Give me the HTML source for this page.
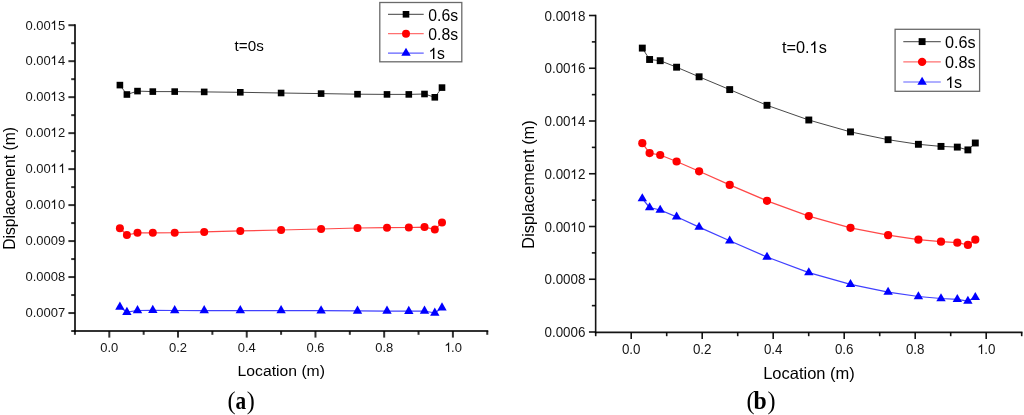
<!DOCTYPE html><html><head><meta charset="utf-8"><style>html,body{margin:0;padding:0;background:#fff;overflow:hidden}svg{display:block;will-change:transform;font-kerning:none;font-family:"Liberation Sans", sans-serif}</style></head><body>
<svg width="1024" height="415" viewBox="0 0 1024 415">
<rect width="1024" height="415" fill="#fff"></rect>
<g stroke="#000" stroke-width="2.0" stroke-opacity="0.8" fill="none"><g stroke-linecap="square"><line x1="75" y1="25.2" x2="75" y2="331"></line><line x1="74.94" y1="331" x2="487.26" y2="331"></line></g><line x1="68.4" y1="25.2" x2="75" y2="25.2"></line><line x1="71.2" y1="43.19" x2="75" y2="43.19"></line><line x1="68.4" y1="61.18" x2="75" y2="61.18"></line><line x1="71.2" y1="79.17" x2="75" y2="79.17"></line><line x1="68.4" y1="97.16" x2="75" y2="97.16"></line><line x1="71.2" y1="115.15" x2="75" y2="115.15"></line><line x1="68.4" y1="133.14" x2="75" y2="133.14"></line><line x1="71.2" y1="151.13" x2="75" y2="151.13"></line><line x1="68.4" y1="169.12" x2="75" y2="169.12"></line><line x1="71.2" y1="187.11" x2="75" y2="187.11"></line><line x1="68.4" y1="205.1" x2="75" y2="205.1"></line><line x1="71.2" y1="223.09" x2="75" y2="223.09"></line><line x1="68.4" y1="241.08" x2="75" y2="241.08"></line><line x1="71.2" y1="259.07" x2="75" y2="259.07"></line><line x1="68.4" y1="277.06" x2="75" y2="277.06"></line><line x1="71.2" y1="295.05" x2="75" y2="295.05"></line><line x1="68.4" y1="313.04" x2="75" y2="313.04"></line><line x1="71.2" y1="331.03" x2="75" y2="331.03"></line><line x1="74.94" y1="331" x2="74.94" y2="334.8"></line><line x1="109.3" y1="331" x2="109.3" y2="337.6"></line><line x1="143.66" y1="331" x2="143.66" y2="334.8"></line><line x1="178.02" y1="331" x2="178.02" y2="337.6"></line><line x1="212.38" y1="331" x2="212.38" y2="334.8"></line><line x1="246.74" y1="331" x2="246.74" y2="337.6"></line><line x1="281.1" y1="331" x2="281.1" y2="334.8"></line><line x1="315.46" y1="331" x2="315.46" y2="337.6"></line><line x1="349.82" y1="331" x2="349.82" y2="334.8"></line><line x1="384.18" y1="331" x2="384.18" y2="337.6"></line><line x1="418.54" y1="331" x2="418.54" y2="334.8"></line><line x1="452.9" y1="331" x2="452.9" y2="337.6"></line><line x1="487.26" y1="331" x2="487.26" y2="334.8"></line></g>
<g fill="#161616"><text transform="translate(65.2,29.5) scale(1.0,1.05)" text-anchor="end" font-size="13.0">0.00&#x2007;5</text><path d="M763 0L583 0L583 1100Q515 1040 410 980Q310 925 223 893L223 1063Q370 1125 480 1220Q580 1310 640 1409L763 1409Z" transform="translate(65.2,29.5) scale(1.0,1.05) translate(-14.90068,0.47619) scale(0.00635,-0.00635)"></path><text transform="translate(65.2,65.48) scale(1.0,1.05)" text-anchor="end" font-size="13.0">0.00&#x2007;4</text><path d="M763 0L583 0L583 1100Q515 1040 410 980Q310 925 223 893L223 1063Q370 1125 480 1220Q580 1310 640 1409L763 1409Z" transform="translate(65.2,65.48) scale(1.0,1.05) translate(-14.90068,-0.45715) scale(0.00635,-0.00635)"></path><text transform="translate(65.2,101.46) scale(1.0,1.05)" text-anchor="end" font-size="13.0">0.00&#x2007;3</text><path d="M763 0L583 0L583 1100Q515 1040 410 980Q310 925 223 893L223 1063Q370 1125 480 1220Q580 1310 640 1409L763 1409Z" transform="translate(65.2,101.46) scale(1.0,1.05) translate(-14.90068,-0.43809) scale(0.00635,-0.00635)"></path><text transform="translate(65.2,137.44) scale(1.0,1.05)" text-anchor="end" font-size="13.0">0.00&#x2007;2</text><path d="M763 0L583 0L583 1100Q515 1040 410 980Q310 925 223 893L223 1063Q370 1125 480 1220Q580 1310 640 1409L763 1409Z" transform="translate(65.2,137.44) scale(1.0,1.05) translate(-14.90068,-0.41905) scale(0.00635,-0.00635)"></path><text transform="translate(65.2,173.42) scale(1.0,1.05)" text-anchor="end" font-size="13.0">0.00&#x2007;&#x2007;</text><path d="M763 0L583 0L583 1100Q515 1040 410 980Q310 925 223 893L223 1063Q370 1125 480 1220Q580 1310 640 1409L763 1409Z" transform="translate(65.2,173.42) scale(1.0,1.05) translate(-6.90068,-0.4) scale(0.00635,-0.00635)"></path><path d="M763 0L583 0L583 1100Q515 1040 410 980Q310 925 223 893L223 1063Q370 1125 480 1220Q580 1310 640 1409L763 1409Z" transform="translate(65.2,173.42) scale(1.0,1.05) translate(-14.90068,-0.4) scale(0.00635,-0.00635)"></path><text transform="translate(65.2,209.4) scale(1.0,1.05)" text-anchor="end" font-size="13.0">0.00&#x2007;0</text><path d="M763 0L583 0L583 1100Q515 1040 410 980Q310 925 223 893L223 1063Q370 1125 480 1220Q580 1310 640 1409L763 1409Z" transform="translate(65.2,209.4) scale(1.0,1.05) translate(-14.90068,-0.38095) scale(0.00635,-0.00635)"></path><text transform="translate(65.2,245.38) scale(1.0,1.05)" text-anchor="end" font-size="13.0">0.0009</text><text transform="translate(65.2,281.36) scale(1.0,1.05)" text-anchor="end" font-size="13.0">0.0008</text><text transform="translate(65.2,317.34) scale(1.0,1.05)" text-anchor="end" font-size="13.0">0.0007</text><text transform="translate(109.3,351.5) scale(1.0,1.05)" text-anchor="middle" font-size="13.0">0.0</text><text transform="translate(178.02,351.5) scale(1.0,1.05)" text-anchor="middle" font-size="13.0">0.2</text><text transform="translate(246.74,351.5) scale(1.0,1.05)" text-anchor="middle" font-size="13.0">0.4</text><text transform="translate(315.46,351.5) scale(1.0,1.05)" text-anchor="middle" font-size="13.0">0.6</text><text transform="translate(384.18,351.5) scale(1.0,1.05)" text-anchor="middle" font-size="13.0">0.8</text><text transform="translate(452.9,351.5) scale(1.0,1.05)" text-anchor="middle" font-size="13.0">&#x2007;.0</text><path d="M763 0L583 0L583 1100Q515 1040 410 980Q310 925 223 893L223 1063Q370 1125 480 1220Q580 1310 640 1409L763 1409Z" transform="translate(452.9,351.5) scale(1.0,1.05) translate(-8.60068,0.47619) scale(0.00635,-0.00635)"></path></g>
<g stroke="#000" stroke-width="1.6" stroke-opacity="0.92" fill="none"><g stroke-linecap="square"><line x1="595.65" y1="15.5" x2="595.65" y2="332.4"></line><line x1="595.7" y1="332.4" x2="1021.7" y2="332.4"></line></g><line x1="588.95" y1="15.5" x2="595.65" y2="15.5"></line><line x1="591.85" y1="41.88" x2="595.65" y2="41.88"></line><line x1="588.95" y1="68.25" x2="595.65" y2="68.25"></line><line x1="591.85" y1="94.62" x2="595.65" y2="94.62"></line><line x1="588.95" y1="121" x2="595.65" y2="121"></line><line x1="591.85" y1="147.38" x2="595.65" y2="147.38"></line><line x1="588.95" y1="173.75" x2="595.65" y2="173.75"></line><line x1="591.85" y1="200.13" x2="595.65" y2="200.13"></line><line x1="588.95" y1="226.5" x2="595.65" y2="226.5"></line><line x1="591.85" y1="252.88" x2="595.65" y2="252.88"></line><line x1="588.95" y1="279.25" x2="595.65" y2="279.25"></line><line x1="591.85" y1="305.62" x2="595.65" y2="305.62"></line><line x1="588.95" y1="332" x2="595.65" y2="332"></line><line x1="595.7" y1="332.4" x2="595.7" y2="336.2"></line><line x1="631.2" y1="332.4" x2="631.2" y2="339.1"></line><line x1="666.7" y1="332.4" x2="666.7" y2="336.2"></line><line x1="702.2" y1="332.4" x2="702.2" y2="339.1"></line><line x1="737.7" y1="332.4" x2="737.7" y2="336.2"></line><line x1="773.2" y1="332.4" x2="773.2" y2="339.1"></line><line x1="808.7" y1="332.4" x2="808.7" y2="336.2"></line><line x1="844.2" y1="332.4" x2="844.2" y2="339.1"></line><line x1="879.7" y1="332.4" x2="879.7" y2="336.2"></line><line x1="915.2" y1="332.4" x2="915.2" y2="339.1"></line><line x1="950.7" y1="332.4" x2="950.7" y2="336.2"></line><line x1="986.2" y1="332.4" x2="986.2" y2="339.1"></line><line x1="1021.7" y1="332.4" x2="1021.7" y2="336.2"></line></g>
<g fill="#161616"><text transform="translate(585.4,20.5) scale(1.0,1.05)" text-anchor="end" font-size="13.4">0.00&#x2007;8</text><path d="M763 0L583 0L583 1100Q515 1040 410 980Q310 925 223 893L223 1063Q370 1125 480 1220Q580 1310 640 1409L763 1409Z" transform="translate(585.4,20.5) scale(1.0,1.05) translate(-15.21458,0.47619) scale(0.00654,-0.00654)"></path><text transform="translate(585.4,73.25) scale(1.0,1.05)" text-anchor="end" font-size="13.4">0.00&#x2007;6</text><path d="M763 0L583 0L583 1100Q515 1040 410 980Q310 925 223 893L223 1063Q370 1125 480 1220Q580 1310 640 1409L763 1409Z" transform="translate(585.4,73.25) scale(1.0,1.05) translate(-15.21458,-0.2381) scale(0.00654,-0.00654)"></path><text transform="translate(585.4,126) scale(1.0,1.05)" text-anchor="end" font-size="13.4">0.00&#x2007;4</text><path d="M763 0L583 0L583 1100Q515 1040 410 980Q310 925 223 893L223 1063Q370 1125 480 1220Q580 1310 640 1409L763 1409Z" transform="translate(585.4,126) scale(1.0,1.05) translate(-15.21458,0) scale(0.00654,-0.00654)"></path><text transform="translate(585.4,178.75) scale(1.0,1.05)" text-anchor="end" font-size="13.4">0.00&#x2007;2</text><path d="M763 0L583 0L583 1100Q515 1040 410 980Q310 925 223 893L223 1063Q370 1125 480 1220Q580 1310 640 1409L763 1409Z" transform="translate(585.4,178.75) scale(1.0,1.05) translate(-15.21458,0.2381) scale(0.00654,-0.00654)"></path><text transform="translate(585.4,231.5) scale(1.0,1.05)" text-anchor="end" font-size="13.4">0.00&#x2007;0</text><path d="M763 0L583 0L583 1100Q515 1040 410 980Q310 925 223 893L223 1063Q370 1125 480 1220Q580 1310 640 1409L763 1409Z" transform="translate(585.4,231.5) scale(1.0,1.05) translate(-15.21458,0.47619) scale(0.00654,-0.00654)"></path><text transform="translate(585.4,284.25) scale(1.0,1.05)" text-anchor="end" font-size="13.4">0.0008</text><text transform="translate(585.4,337) scale(1.0,1.05)" text-anchor="end" font-size="13.4">0.0006</text><text transform="translate(631.2,353.8) scale(1.0,1.05)" text-anchor="middle" font-size="13.4">0.0</text><text transform="translate(702.2,353.8) scale(1.0,1.05)" text-anchor="middle" font-size="13.4">0.2</text><text transform="translate(773.2,353.8) scale(1.0,1.05)" text-anchor="middle" font-size="13.4">0.4</text><text transform="translate(844.2,353.8) scale(1.0,1.05)" text-anchor="middle" font-size="13.4">0.6</text><text transform="translate(915.2,353.8) scale(1.0,1.05)" text-anchor="middle" font-size="13.4">0.8</text><text transform="translate(986.2,353.8) scale(1.0,1.05)" text-anchor="middle" font-size="13.4">&#x2007;.0</text><path d="M763 0L583 0L583 1100Q515 1040 410 980Q310 925 223 893L223 1063Q370 1125 480 1220Q580 1310 640 1409L763 1409Z" transform="translate(986.2,353.8) scale(1.0,1.05) translate(-9.01456,0.19049) scale(0.00654,-0.00654)"></path></g>
<polyline points="119.9,85.1 126.9,94.5 137.5,91.1 152.8,91.6 174.7,91.6 204.2,91.9 240.3,92.3 281.1,93 321.1,93.6 357.5,94.2 387,94.4 408.8,94.4 424.5,94 434.8,97.3 442,87.6" fill="none" stroke="#333" stroke-width="0.9" stroke-linejoin="round"></polyline><polyline points="119.9,228.3 126.9,235 137.5,232.8 152.8,232.8 174.7,232.7 204.2,231.9 240.3,230.9 281.1,230 321.1,229 357.5,228 387,227.7 408.8,227.5 424.5,227.1 434.8,229.4 442,222.6" fill="none" stroke="#ff4848" stroke-width="1.25" stroke-linejoin="round"></polyline><polyline points="119.9,307 126.9,312.2 137.5,310.5 152.8,310.3 174.7,310.5 204.2,310.5 240.3,310.5 281.1,310.5 321.1,310.7 357.5,310.9 387,311 408.8,311.2 424.5,311 434.8,313 442,307.8" fill="none" stroke="#4040ff" stroke-width="1.25" stroke-linejoin="round"></polyline><rect x="116.6" y="81.8" width="6.6" height="6.6" fill="#000"></rect><rect x="123.6" y="91.2" width="6.6" height="6.6" fill="#000"></rect><rect x="134.2" y="87.8" width="6.6" height="6.6" fill="#000"></rect><rect x="149.5" y="88.3" width="6.6" height="6.6" fill="#000"></rect><rect x="171.4" y="88.3" width="6.6" height="6.6" fill="#000"></rect><rect x="200.9" y="88.6" width="6.6" height="6.6" fill="#000"></rect><rect x="237" y="89" width="6.6" height="6.6" fill="#000"></rect><rect x="277.8" y="89.7" width="6.6" height="6.6" fill="#000"></rect><rect x="317.8" y="90.3" width="6.6" height="6.6" fill="#000"></rect><rect x="354.2" y="90.9" width="6.6" height="6.6" fill="#000"></rect><rect x="383.7" y="91.1" width="6.6" height="6.6" fill="#000"></rect><rect x="405.5" y="91.1" width="6.6" height="6.6" fill="#000"></rect><rect x="421.2" y="90.7" width="6.6" height="6.6" fill="#000"></rect><rect x="431.5" y="94" width="6.6" height="6.6" fill="#000"></rect><rect x="438.7" y="84.3" width="6.6" height="6.6" fill="#000"></rect><circle cx="119.9" cy="228.3" r="4" fill="#f00"></circle><circle cx="126.9" cy="235" r="4" fill="#f00"></circle><circle cx="137.5" cy="232.8" r="4" fill="#f00"></circle><circle cx="152.8" cy="232.8" r="4" fill="#f00"></circle><circle cx="174.7" cy="232.7" r="4" fill="#f00"></circle><circle cx="204.2" cy="231.9" r="4" fill="#f00"></circle><circle cx="240.3" cy="230.9" r="4" fill="#f00"></circle><circle cx="281.1" cy="230" r="4" fill="#f00"></circle><circle cx="321.1" cy="229" r="4" fill="#f00"></circle><circle cx="357.5" cy="228" r="4" fill="#f00"></circle><circle cx="387" cy="227.7" r="4" fill="#f00"></circle><circle cx="408.8" cy="227.5" r="4" fill="#f00"></circle><circle cx="424.5" cy="227.1" r="4" fill="#f00"></circle><circle cx="434.8" cy="229.4" r="4" fill="#f00"></circle><circle cx="442" cy="222.6" r="4" fill="#f00"></circle><path d="M119.9 301.53L124.6 309.73L115.2 309.73Z" fill="#00f"></path><path d="M126.9 306.73L131.6 314.93L122.2 314.93Z" fill="#00f"></path><path d="M137.5 305.03L142.2 313.23L132.8 313.23Z" fill="#00f"></path><path d="M152.8 304.83L157.5 313.03L148.1 313.03Z" fill="#00f"></path><path d="M174.7 305.03L179.4 313.23L170 313.23Z" fill="#00f"></path><path d="M204.2 305.03L208.9 313.23L199.5 313.23Z" fill="#00f"></path><path d="M240.3 305.03L245 313.23L235.6 313.23Z" fill="#00f"></path><path d="M281.1 305.03L285.8 313.23L276.4 313.23Z" fill="#00f"></path><path d="M321.1 305.23L325.8 313.43L316.4 313.43Z" fill="#00f"></path><path d="M357.5 305.43L362.2 313.63L352.8 313.63Z" fill="#00f"></path><path d="M387 305.53L391.7 313.73L382.3 313.73Z" fill="#00f"></path><path d="M408.8 305.73L413.5 313.93L404.1 313.93Z" fill="#00f"></path><path d="M424.5 305.53L429.2 313.73L419.8 313.73Z" fill="#00f"></path><path d="M434.8 307.53L439.5 315.73L430.1 315.73Z" fill="#00f"></path><path d="M442 302.33L446.7 310.53L437.3 310.53Z" fill="#00f"></path>
<polyline points="642.3,48.1 649.6,59.5 660.2,60.7 676.6,67.2 699.1,76.8 729.7,89.6 767,105.3 808.8,120 850.5,131.9 888.1,139.7 918.4,144.3 941,146.4 957.3,147.1 967.9,149.9 975.3,143" fill="none" stroke="#333" stroke-width="0.9" stroke-linejoin="round"></polyline><polyline points="642.3,143.2 649.6,153.1 660.2,155 676.6,161.5 699.1,171.3 729.7,184.9 767,200.8 808.8,216.1 850.5,227.8 888.1,235.2 918.4,239.7 941,241.7 957.3,242.7 967.9,244.9 975.3,239.7" fill="none" stroke="#ff4848" stroke-width="1.25" stroke-linejoin="round"></polyline><polyline points="642.3,198.6 649.6,207.5 660.2,210 676.6,216.8 699.1,227.1 729.7,240.8 767,257 808.8,272.6 850.5,284.4 888.1,292.2 918.4,296.5 941,298.5 957.3,299.4 967.9,301.1 975.3,297.4" fill="none" stroke="#4040ff" stroke-width="1.25" stroke-linejoin="round"></polyline><rect x="638.85" y="44.65" width="6.9" height="6.9" fill="#000"></rect><rect x="646.15" y="56.05" width="6.9" height="6.9" fill="#000"></rect><rect x="656.75" y="57.25" width="6.9" height="6.9" fill="#000"></rect><rect x="673.15" y="63.75" width="6.9" height="6.9" fill="#000"></rect><rect x="695.65" y="73.35" width="6.9" height="6.9" fill="#000"></rect><rect x="726.25" y="86.15" width="6.9" height="6.9" fill="#000"></rect><rect x="763.55" y="101.85" width="6.9" height="6.9" fill="#000"></rect><rect x="805.35" y="116.55" width="6.9" height="6.9" fill="#000"></rect><rect x="847.05" y="128.45" width="6.9" height="6.9" fill="#000"></rect><rect x="884.65" y="136.25" width="6.9" height="6.9" fill="#000"></rect><rect x="914.95" y="140.85" width="6.9" height="6.9" fill="#000"></rect><rect x="937.55" y="142.95" width="6.9" height="6.9" fill="#000"></rect><rect x="953.85" y="143.65" width="6.9" height="6.9" fill="#000"></rect><rect x="964.45" y="146.45" width="6.9" height="6.9" fill="#000"></rect><rect x="971.85" y="139.55" width="6.9" height="6.9" fill="#000"></rect><circle cx="642.3" cy="143.2" r="4.1" fill="#f00"></circle><circle cx="649.6" cy="153.1" r="4.1" fill="#f00"></circle><circle cx="660.2" cy="155" r="4.1" fill="#f00"></circle><circle cx="676.6" cy="161.5" r="4.1" fill="#f00"></circle><circle cx="699.1" cy="171.3" r="4.1" fill="#f00"></circle><circle cx="729.7" cy="184.9" r="4.1" fill="#f00"></circle><circle cx="767" cy="200.8" r="4.1" fill="#f00"></circle><circle cx="808.8" cy="216.1" r="4.1" fill="#f00"></circle><circle cx="850.5" cy="227.8" r="4.1" fill="#f00"></circle><circle cx="888.1" cy="235.2" r="4.1" fill="#f00"></circle><circle cx="918.4" cy="239.7" r="4.1" fill="#f00"></circle><circle cx="941" cy="241.7" r="4.1" fill="#f00"></circle><circle cx="957.3" cy="242.7" r="4.1" fill="#f00"></circle><circle cx="967.9" cy="244.9" r="4.1" fill="#f00"></circle><circle cx="975.3" cy="239.7" r="4.1" fill="#f00"></circle><path d="M642.3 193.27L647 201.27L637.6 201.27Z" fill="#00f"></path><path d="M649.6 202.17L654.3 210.17L644.9 210.17Z" fill="#00f"></path><path d="M660.2 204.67L664.9 212.67L655.5 212.67Z" fill="#00f"></path><path d="M676.6 211.47L681.3 219.47L671.9 219.47Z" fill="#00f"></path><path d="M699.1 221.77L703.8 229.77L694.4 229.77Z" fill="#00f"></path><path d="M729.7 235.47L734.4 243.47L725 243.47Z" fill="#00f"></path><path d="M767 251.67L771.7 259.67L762.3 259.67Z" fill="#00f"></path><path d="M808.8 267.27L813.5 275.27L804.1 275.27Z" fill="#00f"></path><path d="M850.5 279.07L855.2 287.07L845.8 287.07Z" fill="#00f"></path><path d="M888.1 286.87L892.8 294.87L883.4 294.87Z" fill="#00f"></path><path d="M918.4 291.17L923.1 299.17L913.7 299.17Z" fill="#00f"></path><path d="M941 293.17L945.7 301.17L936.3 301.17Z" fill="#00f"></path><path d="M957.3 294.07L962 302.07L952.6 302.07Z" fill="#00f"></path><path d="M967.9 295.77L972.6 303.77L963.2 303.77Z" fill="#00f"></path><path d="M975.3 292.07L980 300.07L970.6 300.07Z" fill="#00f"></path>
<g fill="#000">
<rect x="379.8" y="2.5" width="82" height="59.3" fill="#fff" stroke="#6a6a6a" stroke-width="1.3"></rect>
<line x1="388" y1="14.3" x2="423.7" y2="14.3" stroke="#666" stroke-width="1.2"></line>
<rect x="402.7" y="11" width="6.6" height="6.6" fill="#000"></rect>
<text transform="translate(428.3,20.59) scale(1.0,1.03)" font-size="15.8">0.6s</text>
<line x1="388" y1="33.7" x2="423.7" y2="33.7" stroke="#ff7070" stroke-width="1.2"></line>
<circle cx="406" cy="33.7" r="4" fill="#f00"></circle>
<text transform="translate(428.3,39.99) scale(1.0,1.03)" font-size="15.8">0.8s</text>
<line x1="388" y1="53.1" x2="423.7" y2="53.1" stroke="#6060ff" stroke-width="1.2"></line>
<path d="M406 47.63L410.7 55.83L401.3 55.83Z" fill="#00f"></path>
<text transform="translate(428.3,59.39) scale(1.0,1.03)" font-size="15.8">&#x2007;s</text><path d="M763 0L583 0L583 1100Q515 1040 410 980Q310 925 223 893L223 1063Q370 1125 480 1220Q580 1310 640 1409L763 1409Z" transform="translate(428.3,59.39) scale(1.0,1.03) translate(0.20226,-0.37864) scale(0.00771,-0.00771)"></path>
<rect x="895.1" y="29.3" width="84.5" height="62" fill="#fff" stroke="#6a6a6a" stroke-width="1.3"></rect>
<line x1="903.3" y1="41.6" x2="940.8" y2="41.6" stroke="#666" stroke-width="1.2"></line>
<rect x="918.65" y="38.15" width="6.9" height="6.9" fill="#000"></rect>
<text transform="translate(945,48.03) scale(1.0,1.03)" font-size="16.2">0.6s</text>
<line x1="903.3" y1="61.9" x2="940.8" y2="61.9" stroke="#ff7070" stroke-width="1.2"></line>
<circle cx="922.1" cy="61.9" r="4.2" fill="#f00"></circle>
<text transform="translate(945,68.33) scale(1.0,1.03)" font-size="16.2">0.8s</text>
<line x1="903.3" y1="82" x2="940.8" y2="82" stroke="#6060ff" stroke-width="1.2"></line>
<path d="M922.1 76.67L926.8 84.67L917.4 84.67Z" fill="#00f"></path>
<text transform="translate(945,88.43) scale(1.0,1.03)" font-size="16.2">&#x2007;s</text><path d="M763 0L583 0L583 1100Q515 1040 410 980Q310 925 223 893L223 1063Q370 1125 480 1220Q580 1310 640 1409L763 1409Z" transform="translate(945,88.43) scale(1.0,1.03) translate(0.38838,-0.41748) scale(0.00791,-0.00791)"></path>
<text transform="translate(234.6,51)" font-size="15.2">t=0s</text>
<text transform="translate(782,52.8) scale(1.0,1.04)" font-size="16.3">t=0.&#x2007;s</text><path d="M763 0L583 0L583 1100Q515 1040 410 980Q310 925 223 893L223 1063Q370 1125 480 1220Q580 1310 640 1409L763 1409Z" transform="translate(782,52.8) scale(1.0,1.04) translate(27.35991,0.19231) scale(0.00796,-0.00796)"></path>
<text transform="translate(15.2,188.4) rotate(-90) scale(1.0,1.06)" text-anchor="middle" font-size="15.7">Displacement (m)</text>
<text transform="translate(533.8,184.5) rotate(-90) scale(1.0,1.04)" text-anchor="middle" font-size="16.4">Displacement (m)</text>
<text transform="translate(281.25,376) scale(1.015,1.0)" text-anchor="middle" font-size="15.5">Location (m)</text>
<text transform="translate(809,379)" text-anchor="middle" font-size="16.5">Location (m)</text>
<g font-family="&quot;Liberation Serif&quot;, serif" font-size="24.2"><text x="227.6" y="408.6">(</text><text transform="translate(235.4,408.6) scale(0.88,1)" font-weight="bold">a</text><text x="246.7" y="408.6">)</text></g>
<g font-family="&quot;Liberation Serif&quot;, serif" font-size="24.2"><text x="746.4" y="408.9">(</text><text transform="translate(753.6,408.9) scale(0.98,1)" font-weight="bold">b</text><text x="767.6" y="408.9">)</text></g>
</g>
</svg></body></html>
